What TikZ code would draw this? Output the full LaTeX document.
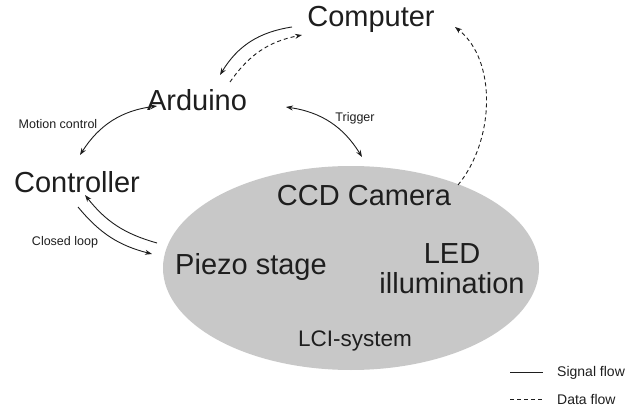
\documentclass[tikz,border=0pt]{standalone}
\usepackage{fontspec}
\setmainfont{Liberation Sans}
\usetikzlibrary{shapes.geometric,arrows.meta}
\definecolor{lcigray}{RGB}{200,200,200}
\definecolor{ink}{RGB}{30,30,30}
\tikzset{
  big/.style={font=\fontsize{29}{33}\selectfont, text=ink, inner sep=0pt, align=center},
  mid/.style={font=\fontsize{22.5}{26}\selectfont, text=ink, inner sep=0pt},
  small/.style={font=\fontsize{12.5}{15}\selectfont, text=ink, inner sep=0pt},
  legtext/.style={font=\fontsize{14}{16}\selectfont, text=ink, inner sep=0pt},
  sig/.style={draw=ink, line width=0.9pt},
  dat/.style={draw=ink, line width=0.9pt, dash pattern=on 4pt off 3pt},
  tip/.style={-{Stealth[length=7pt,width=5pt]}},
  tips/.style={{Stealth[length=7pt,width=5pt]}-{Stealth[length=7pt,width=5pt]}}
}
\begin{document}
\begin{tikzpicture}[x=1pt,y=-1pt]
\useasboundingbox (0,0) rectangle (629,409);
\node[ellipse, fill=lcigray, minimum width=376pt, minimum height=204pt, inner sep=0pt] (lci) at (351,268) {};
\node[big] (comp) at (371,19) {Computer};
\node[big] (ard) at (197,100) {Arduino};
\node[big] (ctrl) at (77,182) {Controller};
\node[big] (ccd) at (364,196) {CCD Camera};
\node[big] (piezo) at (251,267) {Piezo stage};
\node[big] (led) at (452,269) {LED\\[-3pt]illumination};
\node[mid] (sys) at (355,341) {LCI-system};
\node[small] (mot) at (58,124) {Motion control};
\node[small] (cl) at (65,242) {Closed loop};
\node[small] (trig) at (355,118) {Trigger};
% connector ends
\coordinate (c1) at (292,27);
\coordinate (a1) at (220,75);
\coordinate (a2) at (230,82);
\coordinate (c2) at (302,35);
\coordinate (a3) at (286,107);
\coordinate (l1) at (362,157);
\coordinate (a4) at (157,106);
\coordinate (k1) at (80,155);
\coordinate (l2) at (157,243);
\coordinate (k2) at (85,195);
\coordinate (k3) at (78,207);
\coordinate (l3) at (152,254);
\coordinate (l4) at (458,185);
\coordinate (c3) at (455,27);
\draw[sig,tip] (c1) to[bend right=25] (a1);
\draw[dat,tip] (a2) to[bend left=22] (c2);
\draw[sig,tips] (a3) to[bend left=25] (l1);
\draw[sig,tips] (a4) to[bend right=25] (k1);
\draw[sig,tip] (l2) to[bend left=18] (k2);
\draw[sig,tip] (k3) to[bend right=18] (l3);
\draw[dat,tip] (l4) .. controls (495,140) and (497,60) .. (c3);
% legend
\coordinate (s1) at (510,372);
\coordinate (s2) at (543,372);
\coordinate (d1) at (510,399);
\coordinate (d2) at (543,399);
\draw[sig] (s1) -- (s2);
\draw[dat] (d1) -- (d2);
\node[legtext, anchor=west] (lsig) at (557,373) {Signal flow};
\node[legtext, anchor=west] (ldat) at (557,399) {Data flow};
\end{tikzpicture}
\end{document}
